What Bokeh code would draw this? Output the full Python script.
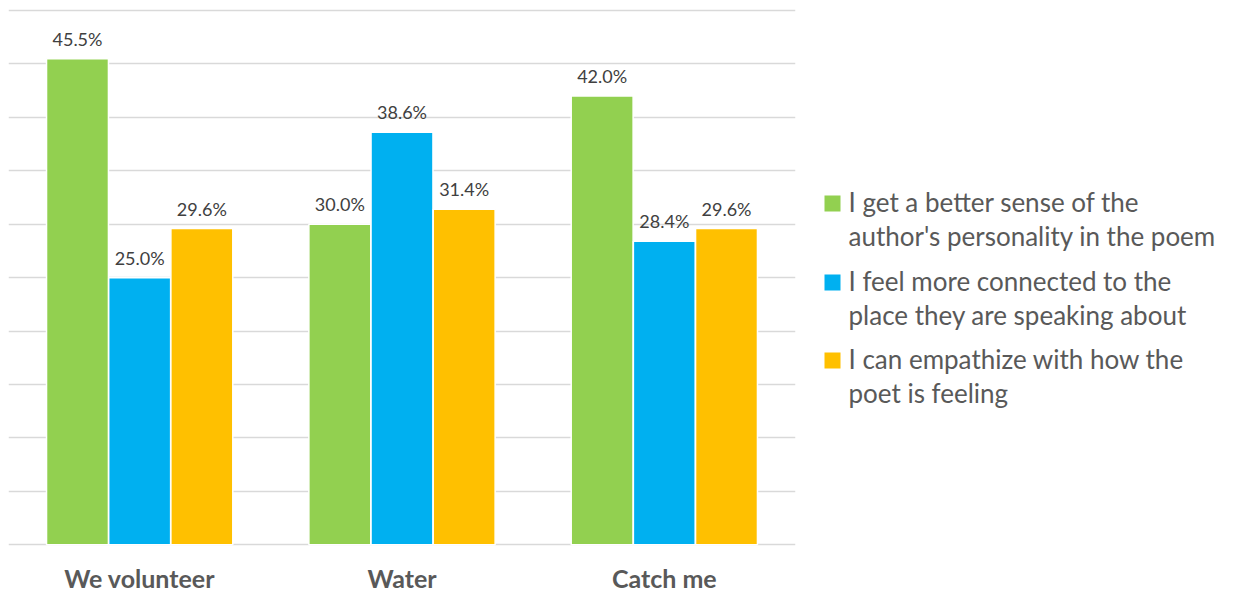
from bokeh.plotting import figure
from bokeh.models import ColumnDataSource, Range1d, FixedTicker, FactorRange
from bokeh.transform import dodge
from bokeh.layouts import row
from bokeh.core.properties import value
from bokeh.embed import file_html
from bokeh.resources import INLINE

categories = ["We volunteer", "Water", "Catch me"]
series_names = [
    "I get a better sense of the\nauthor's personality in the poem",
    "I feel more connected to the\nplace they are speaking about",
    "I can empathize with how the\npoet is feeling",
]
sense_vals = [45.5, 30.0, 42.0]
connected_vals = [25.0, 38.6, 28.4]
empathize_vals = [29.6, 31.4, 29.6]
colors = ["#92D050", "#00B0F0", "#FFC000"]
grid_ticks = [0, 5, 10, 15, 20, 25, 30, 35, 40, 45, 50]

FONT = value("Lato")
H = 594

p = figure(x_range=FactorRange(*categories), y_range=Range1d(-4.65, 50.94),
           width=805, height=H, output_backend="svg", toolbar_location=None,
           min_border_left=8, min_border_right=10, min_border_top=0, min_border_bottom=0)
p.outline_line_color = None
p.background_fill_color = "white"
p.border_fill_color = "white"
p.axis.visible = False

all_vals = [sense_vals, connected_vals, empathize_vals]
offsets = [-0.237, 0.0, 0.237]
for vals, col, off in zip(all_vals, colors, offsets):
    src = ColumnDataSource(dict(cat=categories, val=vals,
                                lab=[f"{v:.1f}%" for v in vals]))
    p.vbar(x=dodge("cat", off, range=p.x_range), top="val", width=0.236, bottom=0,
           source=src, fill_color=col, line_color="white", line_width=1.5)
    p.text(x=dodge("cat", off, range=p.x_range), y="val", text="lab", source=src,
           text_font=FONT, text_font_size="18px", text_color="#404040",
           text_align="center", text_baseline="alphabetic", y_offset=-20)

# category labels below the baseline
cat_src = ColumnDataSource(dict(cat=categories, y=[-3.15] * len(categories)))
p.text(x="cat", y="y", text="cat", source=cat_src, text_font=FONT,
       text_font_size="25px", text_font_style="bold", text_color="#595959",
       text_align="center", text_baseline="middle")

p.ygrid.ticker = FixedTicker(ticks=grid_ticks)
p.ygrid.grid_line_color = "#D9D9D9"
p.ygrid.grid_line_width = 1.5
p.xgrid.visible = False

# legend panel (pixel coordinates inside the panel)
LW = 420
leg = figure(width=LW, height=H, x_range=Range1d(0, LW), y_range=Range1d(H, 0),
             output_backend="svg", toolbar_location=None,
             min_border_left=0, min_border_right=0,
             min_border_top=0, min_border_bottom=0)
leg.axis.visible = False
leg.grid.visible = False
leg.outline_line_color = None

item_y = [201, 280, 358]
line_gap = 34
sq_x, txt_x = 27, 43
for name, col, y0 in zip(series_names, colors, item_y):
    leg.rect(x=[sq_x], y=[y0 + 2], width=16, height=16, fill_color=col, line_color=None)
    lines = name.split("\n")
    leg.text(x=[txt_x] * len(lines), y=[y0 + i * line_gap for i in range(len(lines))],
             text=lines, text_font=FONT, text_font_size="26px", text_color="#595959",
             text_align="left", text_baseline="middle")

layout = row(p, leg, spacing=0)
open("out.html", "w").write(file_html(layout, INLINE))
